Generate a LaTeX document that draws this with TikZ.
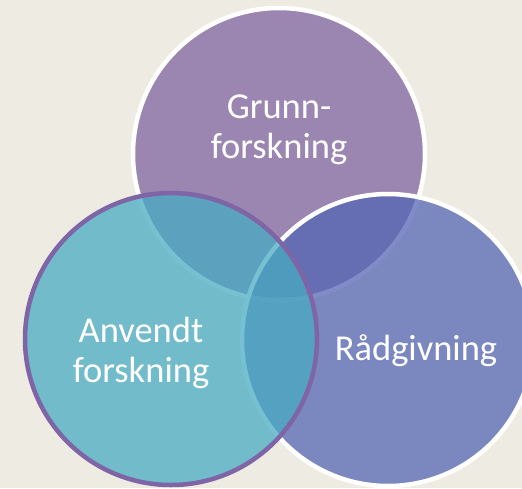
\documentclass[tikz,border=0pt]{standalone}
\usepackage{fontspec}
\setmainfont{Carlito}
\definecolor{paper}{RGB}{238,235,226}
\definecolor{basicfill}{RGB}{154,134,177}
\definecolor{advicefill}{RGB}{83,101,180}
\definecolor{appliedfill}{RGB}{72,171,195}
\definecolor{appliedrim}{RGB}{127,100,166}
\tikzset{
  venn/.style={circle, minimum size=292pt, inner sep=0pt, line width=4.5pt},
  label/.style={text=white, align=center, font=\fontsize{36.5}{40.5}\selectfont}
}
\begin{document}
\begin{tikzpicture}[x=1pt, y=-1pt]
  % canvas
  \fill[paper] (0,0) rectangle (522,488);
  \useasboundingbox (0,0) rectangle (522,488);

  % the three overlapping fields
  \node[venn, fill=basicfill, draw=white] (basic) at (279,154) {};
  \node[venn, fill=advicefill, fill opacity=0.74, draw=white] (advice) at (388,340) {};
  \node[venn, fill=appliedfill, fill opacity=0.745, draw=appliedrim] (applied) at (171,339) {};

  % labels
  \node[label] (basiclabel) at (279,130) {Grunn-\\forskning};
  \node[label] (appliedlabel) at (141,353) {Anvendt\\forskning};
  \node[label, anchor=base] (advicelabel) at (416,360) {Rådgivning};
\end{tikzpicture}
\end{document}
